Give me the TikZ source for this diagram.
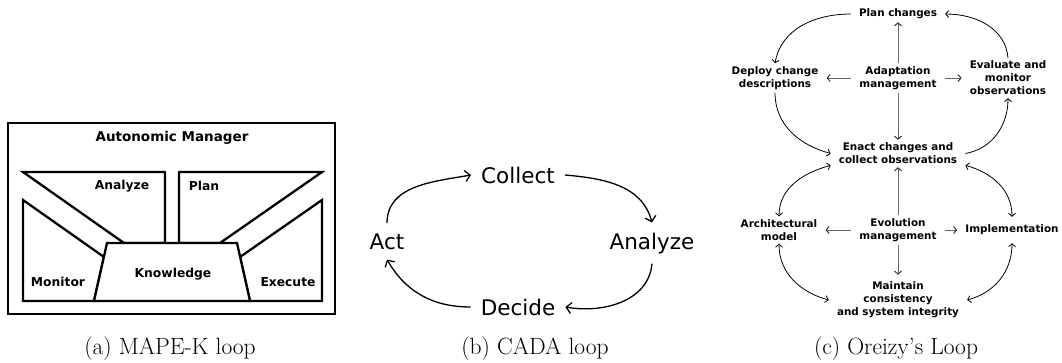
\documentclass[tikz,border=0pt]{standalone}
\usepackage{fontspec}
\newfontfamily\dv{DejaVu Sans}
\usetikzlibrary{arrows.meta}
\tikzset{
  mk/.style={line width=2.3pt, line join=miter},
  mktitle/.style={font=\dv\bfseries\fontsize{13.5}{16}\selectfont, inner sep=0pt},
  mklbl/.style={font=\dv\bfseries\fontsize{12.3}{14}\selectfont, inner sep=0pt},
  cada/.style={font=\dv\fontsize{21.5}{24}\selectfont, inner sep=10pt, anchor=base},
  carrow/.style={line width=1.3pt, -{Straight Barb[length=5pt,width=11pt]}},
  ore/.style={font=\dv\bfseries\fontsize{10.4}{13}\selectfont, align=center, inner xsep=8pt, inner ysep=3pt},
  ostraight/.style={draw=black!60, line width=1pt, -{Straight Barb[length=3pt,width=7pt,color=black!80]}},
  ocurve/.style={line width=0.8pt, -{Straight Barb[length=3pt,width=7pt]}},
  ocurvetwo/.style={line width=0.8pt, {Straight Barb[length=3pt,width=7pt]}-{Straight Barb[length=3pt,width=7pt]}},
  capt/.style={font=\fontsize{23.5}{27}\selectfont, anchor=base, inner sep=0pt}
}
\begin{document}
\begin{tikzpicture}[x=1pt,y=1pt]
\useasboundingbox (0,0) rectangle (1062,-362);

% ---------- (a) MAPE-K ----------
\draw[mk] (8,-123) rectangle (335,-314);
\node[mktitle] (am) at (172,-138) {Autonomic Manager};
\draw[mk] (23,-172) -- (165,-172) -- (165,-243) -- (124,-243) -- cycle;
\draw[mk] (179,-172) -- (322,-172) -- (220,-243) -- (179,-243) -- cycle;
\draw[mk] (23,-200) -- (104,-257) -- (94,-301) -- (23,-301) -- cycle;
\draw[mk] (322,-200) -- (240,-257) -- (250,-301) -- (322,-301) -- cycle;
\draw[mk, fill=white] (107,-243) -- (237,-243) -- (250,-301) -- (94,-301) -- cycle;
\node[mklbl] (ma) at (122,-186) {Analyze};
\node[mklbl] (mp) at (204,-186) {Plan};
\node[mklbl] (mm) at (58,-282) {Monitor};
\node[mklbl] (mkn) at (173,-274) {Knowledge};
\node[mklbl] (me) at (288,-282) {Execute};

% ---------- (b) CADA ----------
\node[cada] (collect) at (518,-183) {Collect};
\node[cada] (analyze) at (652,-249) {Analyze};
\node[cada] (act) at (387,-249) {Act};
\node[cada] (decide) at (518,-315) {Decide};
\draw[carrow] (act.north) to[out=90,in=190] (collect.west);
\draw[carrow] (collect.east) to[out=-5,in=105] (analyze.north);
\draw[carrow] (analyze.south) to[out=-95,in=-10] (decide.east);
\draw[carrow] (decide.west) to[out=180,in=-60] (act.south);

% ---------- (c) Oreizy ----------
\node[ore] (plan) at (898,-14) {Plan changes};
\node[ore] (deploy) at (775,-78) {Deploy change\\descriptions};
\node[ore] (adapt) at (898,-78) {Adaptation\\management};
\node[ore] (evaluate) at (1008,-78) {Evaluate and\\monitor\\observations};
\node[ore] (enact) at (898,-153.5) {Enact changes and\\collect observations};
\node[ore] (arch) at (779,-230) {Architectural\\model};
\node[ore] (evol) at (898,-230) {Evolution\\management};
\node[ore, inner ysep=8pt] (impl) at (1012,-230) {Implementation};
\node[ore] (maintain) at (898,-300) {Maintain\\consistency\\and system integrity};

\draw[ostraight] (adapt) -- (plan);
\draw[ostraight] (adapt) -- (deploy);
\draw[ostraight] (adapt) -- (evaluate);
\draw[ostraight] (adapt) -- (enact);
\draw[ostraight] (evol) -- (enact);
\draw[ostraight] (evol) -- (arch);
\draw[ostraight] (evol) -- (impl);
\draw[ostraight, shorten >=4pt] (evol) -- (maintain);

\draw[ocurve] (plan.west) to[out=180,in=80] (deploy.north);
\draw[ocurve] (evaluate.north) to[out=95,in=0] (plan.east);
\draw[ocurve] (deploy.south) to[out=-90,in=165] (enact.west);
\draw[ocurve] (enact.east) to[out=10,in=-90] (evaluate.south);
\draw[ocurvetwo] (enact.190) to[out=195,in=90] (arch.north);
\draw[ocurvetwo] (enact.-10) to[out=-15,in=90] (impl.north);
\draw[ocurvetwo] (arch.south) to[out=-90,in=165] (maintain.west);
\draw[ocurvetwo] (impl.south) to[out=-90,in=15] (maintain.east);

% ---------- captions ----------
\node[capt] (capa) at (170,-354.5) {(a) MAPE-K loop};
\node[capt] (capb) at (535,-354.5) {(b) CADA loop};
\node[capt] (capc) at (896,-354.5) {(c) Oreizy's Loop};
\end{tikzpicture}
\end{document}
